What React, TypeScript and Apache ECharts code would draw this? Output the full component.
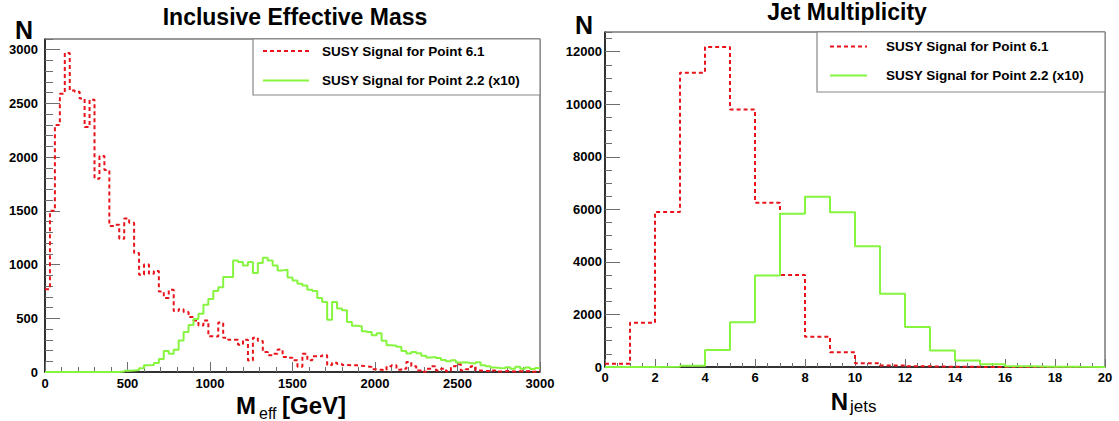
import React, { useEffect, useRef } from 'react';
import * as echarts from 'echarts';

// ---------- data ----------
const MASS_BIN = 30; // GeV per bin, 0..3000
const massRed = [
  770, 1500, 2300, 2590, 2970, 2620, 2610, 2545, 2280, 2535,
  1800, 2010, 1880, 1360, 1370, 1240, 1430, 1390, 1107, 905,
  1000, 915, 940, 750, 690, 765, 567, 583, 558, 511,
  480, 434, 480, 332, 330, 460, 319, 300, 300, 254,
  300, 108, 319, 288, 186, 155, 170, 210, 140, 133,
  110, 50, 170, 110, 146, 146, 155, 65, 85, 75,
  66, 62, 62, 58, 53, 47, 25, 20, 15, 53,
  62, 22, 30, 93, 53, 15, 3, 31, 53, 15,
  31, 6, 53, 71, 15, 25, 53, 15, 10, 8,
  15, 5, 6, 10, 4, 8, 6, 10, 3, 8,
];
const massGreen = [
  0, 0, 0, 0, 0, 0, 0, 0, 0, 0,
  0, 0, 0, 0, 0, 5, 12, 15, 18, 35,
  62, 65, 84, 121, 195, 170, 208, 294, 372, 437,
  493, 542, 625, 680, 753, 790, 884, 884, 1039, 1023,
  992, 1023, 921, 1014, 1063, 1039, 992, 946, 952, 880,
  852, 822, 806, 766, 754, 688, 651, 487, 651, 590,
  574, 465, 430, 425, 380, 372, 341, 360, 290, 250,
  245, 235, 195, 172, 186, 175, 152, 136, 140, 130,
  112, 100, 110, 88, 90, 84, 80, 90, 62, 53,
  42, 38, 35, 45, 30, 48, 30, 42, 28, 38,
];

const JETS_BIN = 1; // 0..20
const jetsRed = [120, 1680, 5900, 11200, 12180, 9800, 6250, 3500, 1150, 560, 140, 60, 25, 10, 5, 3, 2, 1, 0, 0];
const jetsGreen = [0, 2, 10, 50, 650, 1700, 3480, 5830, 6480, 5890, 4600, 2790, 1520, 630, 250, 100, 30, 10, 5, 2];

const massXRange = [0, 3000];
const massXStep = 500;
const massYRange = [0, 3100];
const massYStep = 500;
const jetsXRange = [0, 20];
const jetsXStep = 2;
const jetsYRange = [0, 12750];
const jetsYStep = 2000;

const legendLabels = ['SUSY Signal for Point 6.1', 'SUSY Signal for Point 2.2 (x10)'];
const titles = ['Inclusive Effective Mass', 'Jet Multiplicity'];

// ---------- style ----------
const FONT = '"Liberation Sans", Arial, Helvetica, sans-serif';
const RED = '#e8141c';
const GREEN = '#86f53f';
const TICK = '#6e6e6e';

const plain = (v: number) => String(v);

function histPoints(vals: number[], w: number) {
  const pts: number[][] = vals.map((v, i) => [i * w, v]);
  pts.push([vals.length * w, vals[vals.length - 1]]);
  return pts;
}

function xAxis(grid: number, range: number[], step: number, minorSplit: number, majorLen: number, minorLen: number, margin: number) {
  return {
    type: 'value',
    gridIndex: grid,
    min: range[0],
    max: range[1],
    interval: step,
    axisLine: { show: true, onZero: false, lineStyle: { color: '#111', width: 1.5 } },
    axisTick: { show: true, inside: true, length: majorLen, lineStyle: { color: TICK, width: 1 } },
    minorTick: { show: true, splitNumber: minorSplit, length: minorLen, lineStyle: { color: TICK, width: 1 } },
    axisLabel: { margin, formatter: plain, fontFamily: FONT, fontWeight: 'bold', fontSize: 13, color: '#000' },
    splitLine: { show: false },
    minorSplitLine: { show: false },
  };
}

function yAxisMajor(grid: number, range: number[], step: number, majorLen: number, margin: number) {
  return {
    type: 'value',
    gridIndex: grid,
    position: 'left',
    min: range[0],
    max: range[1],
    interval: step,
    axisLine: { show: true, onZero: false, lineStyle: { color: '#111', width: 1.5 } },
    axisTick: { show: true, inside: true, length: majorLen, lineStyle: { color: TICK, width: 1 } },
    axisLabel: { margin, formatter: plain, showMaxLabel: false, fontFamily: FONT, fontWeight: 'bold', fontSize: 13, color: '#000' },
    splitLine: { show: false },
  };
}

function yAxisMinor(grid: number, range: number[], step: number, len: number) {
  return {
    type: 'value',
    gridIndex: grid,
    position: 'left',
    min: range[0],
    max: range[1],
    interval: step,
    axisLine: { show: false },
    axisTick: { show: true, inside: true, length: len, lineStyle: { color: TICK, width: 1 } },
    axisLabel: { show: false },
    splitLine: { show: false },
  };
}

function text(t: string, x: number, y: number, size: number, weight: string, align: string) {
  return {
    type: 'text',
    x,
    y,
    z: 100,
    style: {
      text: t,
      fontFamily: FONT,
      fontSize: size,
      fontWeight: weight,
      fill: '#000',
      align,
      textAlign: align,
      verticalAlign: 'middle',
      textVerticalAlign: 'middle',
    },
  };
}

function sample(x1: number, x2: number, y: number, color: string, dashed: boolean) {
  return {
    type: 'line',
    z: 100,
    shape: { x1, y1: y, x2, y2: y },
    style: { stroke: color, lineWidth: 2, lineDash: dashed ? [4, 3] : null },
  };
}

function legendBox(x: number, y: number, w: number, h: number) {
  return {
    type: 'rect',
    z: 99,
    shape: { x, y, width: w, height: h },
    style: { fill: '#fff', stroke: '#888', lineWidth: 1.2 },
  };
}

export default function App() {
  const ref = useRef<HTMLDivElement>(null);

  useEffect(() => {
    if (!ref.current) return;
    const chart = echarts.init(ref.current, undefined, { renderer: 'svg' });

    const histSeries = (data: number[][], xi: number, yi: number, color: string, dashed: boolean) => ({
      type: 'line',
      xAxisIndex: xi,
      yAxisIndex: yi,
      data,
      step: 'end',
      showSymbol: false,
      symbol: 'none',
      clip: true,
      lineStyle: { color, width: 2, type: dashed ? [4, 3] : 'solid' },
      silent: true,
    });

    chart.setOption({
      animation: false,
      backgroundColor: '#fff',
      grid: [
        { left: 45, top: 39, width: 495, height: 333, show: true, borderColor: '#333', borderWidth: 1, backgroundColor: 'transparent' },
        { left: 605, top: 32, width: 500, height: 335, show: true, borderColor: '#333', borderWidth: 1, backgroundColor: 'transparent' },
      ],
      xAxis: [
        xAxis(0, massXRange, massXStep, 5, 10, 5, 5),
        xAxis(1, jetsXRange, jetsXStep, 4, 8, 4, 4),
      ],
      yAxis: [
        yAxisMajor(0, massYRange, massYStep, 15, 7),
        yAxisMinor(0, massYRange, 100, 8),
        yAxisMajor(1, jetsYRange, jetsYStep, 15, 3),
        yAxisMinor(1, jetsYRange, 500, 7),
      ],
      series: [
        histSeries(histPoints(massRed, MASS_BIN), 0, 0, RED, true),
        histSeries(histPoints(massGreen, MASS_BIN), 0, 0, GREEN, false),
        histSeries(histPoints(jetsRed, JETS_BIN), 1, 2, RED, true),
        histSeries(histPoints(jetsGreen, JETS_BIN), 1, 2, GREEN, false),
      ],
      graphic: [
        text(titles[0], 295, 17, 23, 'bold', 'center'),
        text(titles[1], 847, 12, 23, 'bold', 'center'),
        text('N', 24, 30, 25, 'bold', 'center'),
        text('N', 584, 25, 25, 'bold', 'center'),
        // x-axis titles
        text('M', 236, 405, 24, 'bold', 'left'),
        text('eff', 259, 413, 16, 'normal', 'left'),
        text('[GeV]', 282, 405, 24, 'bold', 'left'),
        text('N', 848, 401, 24, 'bold', 'right'),
        text('jets', 850, 406, 17, 'normal', 'left'),
        // legends
        legendBox(253, 39, 287, 56),
        sample(263, 309, 51, RED, true),
        text(legendLabels[0], 322, 51, 13.5, 'bold', 'left'),
        sample(263, 309, 80.5, GREEN, false),
        text(legendLabels[1], 322, 80.5, 13.5, 'bold', 'left'),
        legendBox(817, 32, 288, 60),
        sample(830, 867, 46.5, RED, true),
        text(legendLabels[0], 886, 46.5, 13.5, 'bold', 'left'),
        sample(830, 867, 75.5, GREEN, false),
        text(legendLabels[1], 886, 75.5, 13.5, 'bold', 'left'),
      ],
    });

    return () => chart.dispose();
  }, []);

  return (
    <div
      ref={ref}
      style={{ position: 'absolute', left: 0, top: 0, width: 1119, height: 421, background: '#fff' }}
    />
  );
}
